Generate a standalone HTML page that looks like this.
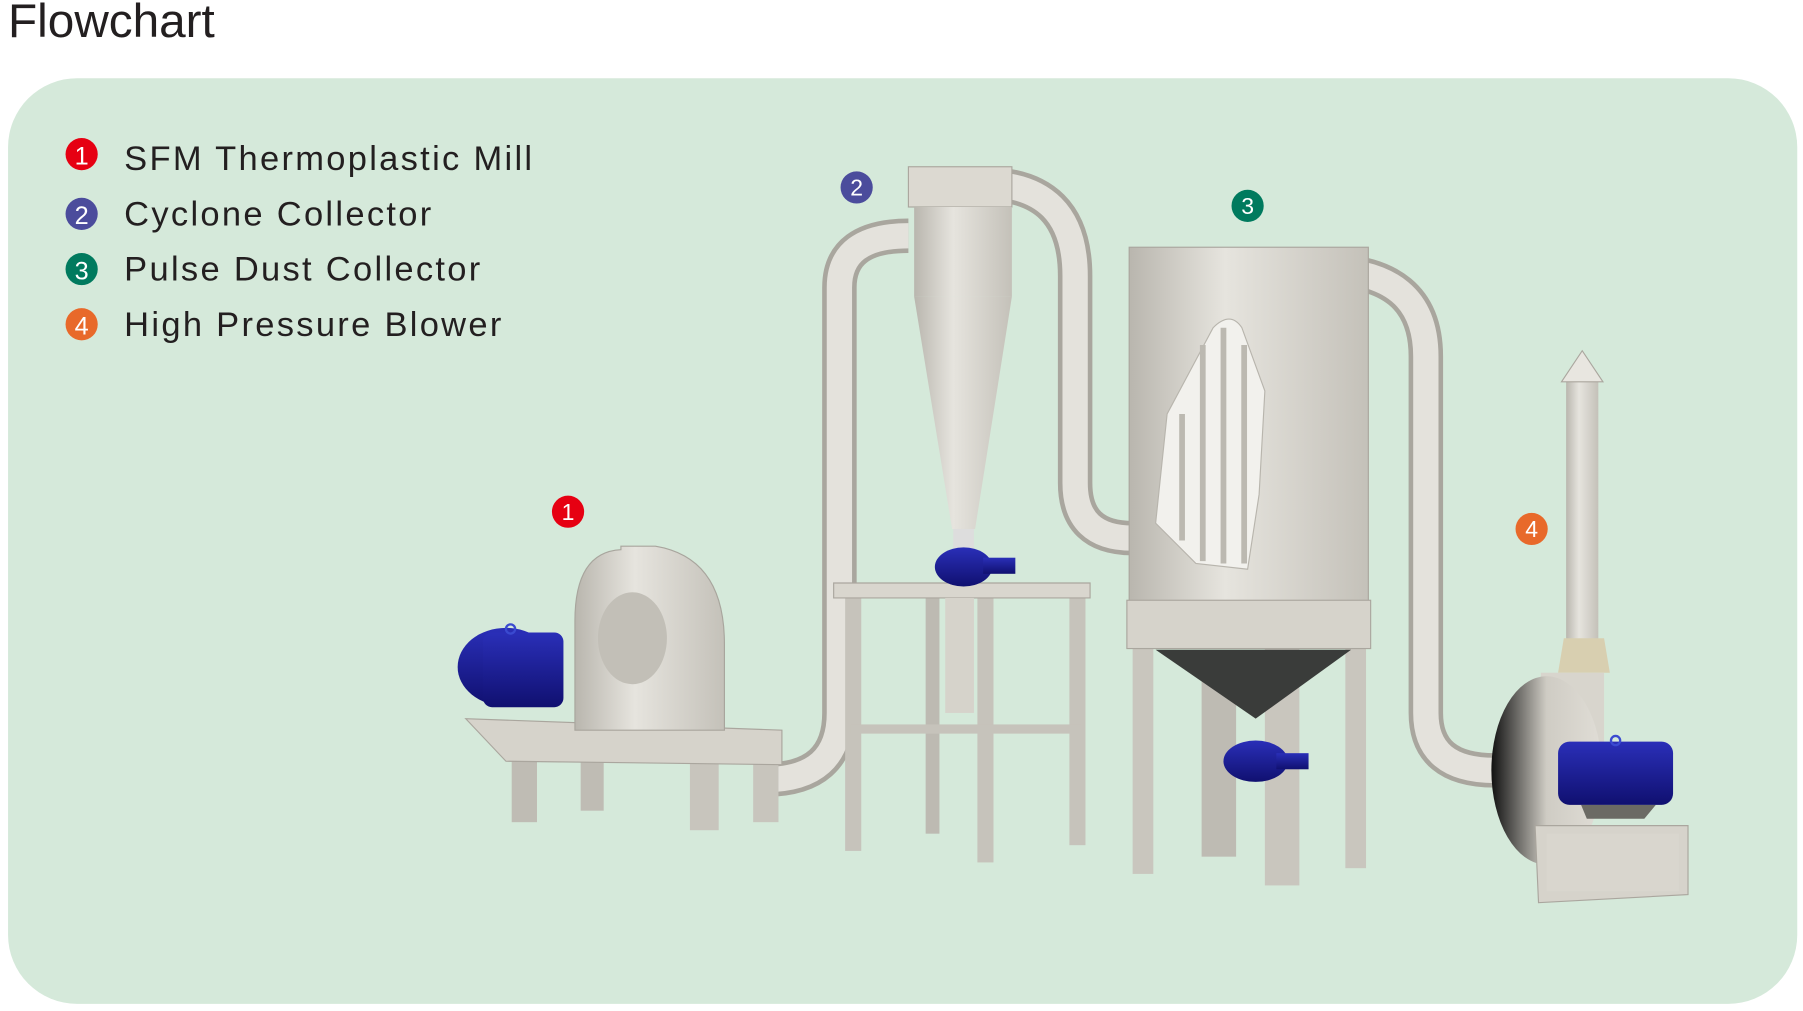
<!DOCTYPE html>
<html><head><meta charset="utf-8"><style>
html,body{margin:0;padding:0;background:#fff;width:1803px;height:1011px;overflow:hidden}
svg{display:block}
text{font-family:"Liberation Sans",Arial,sans-serif}
</style></head><body>
<svg width="1803" height="1011" viewBox="0 0 1568 879.2" xmlns="http://www.w3.org/2000/svg">
<defs>
<linearGradient id="metal" x1="0" x2="1" y1="0" y2="0">
<stop offset="0" stop-color="#b9b6ae"/><stop offset="0.4" stop-color="#e6e4de"/><stop offset="1" stop-color="#c4c1b9"/></linearGradient>
<linearGradient id="blue" x1="0" x2="0" y1="0" y2="1">
<stop offset="0" stop-color="#2a2fb8"/><stop offset="1" stop-color="#101070"/></linearGradient>
<linearGradient id="fan" x1="0" x2="1"><stop offset="0" stop-color="#111"/><stop offset="0.5" stop-color="#cfccc4"/><stop offset="1" stop-color="#e0ddd6"/></linearGradient>
</defs>
<text x="7" y="32" font-size="41.5" fill="#231f20">Flowchart</text>
<rect x="7" y="68" width="1556" height="805" rx="60" fill="#d5e9da"/>
<g font-size="30" fill="#231f20" letter-spacing="2">
<circle cx="71" cy="134" r="14" fill="#e60012"/><text x="71" y="143" font-size="22" fill="#fff" text-anchor="middle" letter-spacing="0">1</text>
<text x="108" y="148">SFM Thermoplastic Mill</text>
<circle cx="71" cy="186" r="14" fill="#4b4c9c"/><text x="71" y="195" font-size="22" fill="#fff" text-anchor="middle" letter-spacing="0">2</text>
<text x="108" y="196">Cyclone Collector</text>
<circle cx="71" cy="234" r="14" fill="#007a5e"/><text x="71" y="243" font-size="22" fill="#fff" text-anchor="middle" letter-spacing="0">3</text>
<text x="108" y="244">Pulse Dust Collector</text>
<circle cx="71" cy="282" r="14" fill="#e8692a"/><text x="71" y="291" font-size="22" fill="#fff" text-anchor="middle" letter-spacing="0">4</text>
<text x="108" y="292">High Pressure Blower</text>
</g>
<!-- pipes -->
<g fill="none" stroke-linecap="butt">
<path d="M665 678 Q730 678 730 620 L730 250 Q730 205 790 205" stroke="#a9a69e" stroke-width="30"/>
<path d="M665 678 Q730 678 730 620 L730 250 Q730 205 790 205" stroke="#e4e2dc" stroke-width="22"/>
<path d="M855 160 Q935 160 935 240 L935 420 Q935 468 985 468" stroke="#a9a69e" stroke-width="30"/>
<path d="M855 160 Q935 160 935 240 L935 420 Q935 468 985 468" stroke="#e4e2dc" stroke-width="22"/>
<path d="M1150 235 Q1240 235 1240 310 L1240 620 Q1240 670 1300 670" stroke="#a9a69e" stroke-width="30"/>
<path d="M1150 235 Q1240 235 1240 310 L1240 620 Q1240 670 1300 670" stroke="#e4e2dc" stroke-width="22"/>
</g>
<!-- mill -->
<g>
<rect x="445" y="660" width="22" height="55" fill="#bfbcb4"/><rect x="505" y="660" width="20" height="45" fill="#bfbcb4"/>
<rect x="600" y="660" width="25" height="62" fill="#c8c5bd"/><rect x="655" y="660" width="22" height="55" fill="#c8c5bd"/>
<polygon points="405,625 680,635 680,665 440,662" fill="#d6d3cb" stroke="#aaa69e"/>
<path d="M500 635 L500 540 Q500 480 540 478 L540 475 L570 475 Q630 485 630 560 L630 635 Z" fill="url(#metal)" stroke="#a8a59d"/>
<ellipse cx="550" cy="555" rx="30" ry="40" fill="#c2bfb7"/>
<ellipse cx="440" cy="580" rx="42" ry="34" fill="url(#blue)"/>
<rect x="420" y="550" width="70" height="65" rx="8" fill="url(#blue)"/>
<circle cx="444" cy="547" r="4" fill="none" stroke="#3a4ad0" stroke-width="2"/>
</g>
<!-- cyclone + stand -->
<g>
<rect x="735" y="515" width="14" height="225" fill="#c6c3bb"/><rect x="850" y="515" width="14" height="235" fill="#c6c3bb"/>
<rect x="930" y="515" width="14" height="220" fill="#c6c3bb"/><rect x="805" y="515" width="12" height="210" fill="#bdbab2"/>
<rect x="740" y="630" width="200" height="8" fill="#c6c3bb"/>
<polygon points="725,507 948,507 948,520 725,520" fill="#d9d6ce" stroke="#aaa69e"/>
<rect x="822" y="520" width="25" height="100" fill="#d6d3cb"/>
<rect x="790" y="145" width="90" height="35" fill="#dcd9d1" stroke="#aaa69e"/>
<rect x="795" y="180" width="85" height="78" fill="url(#metal)"/>
<polygon points="795,258 880,258 848,460 828,460" fill="url(#metal)"/>
<rect x="829" y="460" width="18" height="18" fill="#ddd"/>
<ellipse cx="838" cy="493" rx="25" ry="17" fill="url(#blue)"/>
<rect x="855" y="485" width="28" height="14" fill="url(#blue)"/>
</g>
<!-- pulse collector -->
<g>
<rect x="985" y="560" width="18" height="200" fill="#c9c6be"/><rect x="1100" y="560" width="30" height="210" fill="#c9c6be"/>
<rect x="1170" y="560" width="18" height="195" fill="#c9c6be"/><rect x="1045" y="580" width="30" height="165" fill="#bebbb3"/>
<rect x="982" y="215" width="208" height="310" fill="url(#metal)" stroke="#aaa69e"/>
<rect x="980" y="522" width="212" height="42" fill="#d6d3cb" stroke="#aaa69e"/>
<polygon points="1005,565 1175,565 1092,625" fill="#3a3c3a"/>
<path d="M1055 285 Q1070 270 1080 285 L1100 340 L1095 430 L1085 495 L1040 490 L1005 455 L1015 360 Z" fill="#f2f1ed" stroke="#b8b5ad"/>
<g stroke="#bcb9b1" stroke-width="5"><line x1="1028" y1="360" x2="1028" y2="470"/><line x1="1046" y1="300" x2="1046" y2="488"/><line x1="1064" y1="285" x2="1064" y2="490"/><line x1="1082" y1="300" x2="1082" y2="490"/></g>
<ellipse cx="1092" cy="662" rx="28" ry="18" fill="url(#blue)"/>
<rect x="1110" y="655" width="28" height="14" fill="url(#blue)"/>
</g>
<!-- blower -->
<g>
<rect x="1362" y="330" width="28" height="250" fill="url(#metal)"/>
<polygon points="1358,332 1394,332 1376,305" fill="#e8e6e0" stroke="#aaa69e"/>
<polygon points="1360,555 1395,555 1400,585 1355,585" fill="#d8cfb0"/>
<rect x="1340" y="585" width="55" height="120" fill="#d8d5cd"/>
<ellipse cx="1345" cy="670" rx="48" ry="82" fill="url(#fan)"/>
<polygon points="1335,718 1468,718 1468,778 1338,785" fill="#d6d3cb" stroke="#aaa69e"/>
<rect x="1345" y="725" width="115" height="50" fill="#d9d6ce"/>
<polygon points="1375,700 1440,700 1430,712 1380,712" fill="#6b6a64"/>
<rect x="1355" y="645" width="100" height="55" rx="10" fill="url(#blue)"/>
<circle cx="1405" cy="644" r="4" fill="none" stroke="#3a4ad0" stroke-width="2"/>
</g>
<!-- badges -->
<g font-size="20" fill="#fff" text-anchor="middle">
<circle cx="494" cy="445" r="14" fill="#e60012"/><text x="494" y="452">1</text>
<circle cx="745" cy="163" r="14" fill="#4b4c9c"/><text x="745" y="170">2</text>
<circle cx="1085" cy="179" r="14" fill="#007a5e"/><text x="1085" y="186">3</text>
<circle cx="1332" cy="460" r="14" fill="#e8692a"/><text x="1332" y="467">4</text>
</g>
</svg>
</body></html>
